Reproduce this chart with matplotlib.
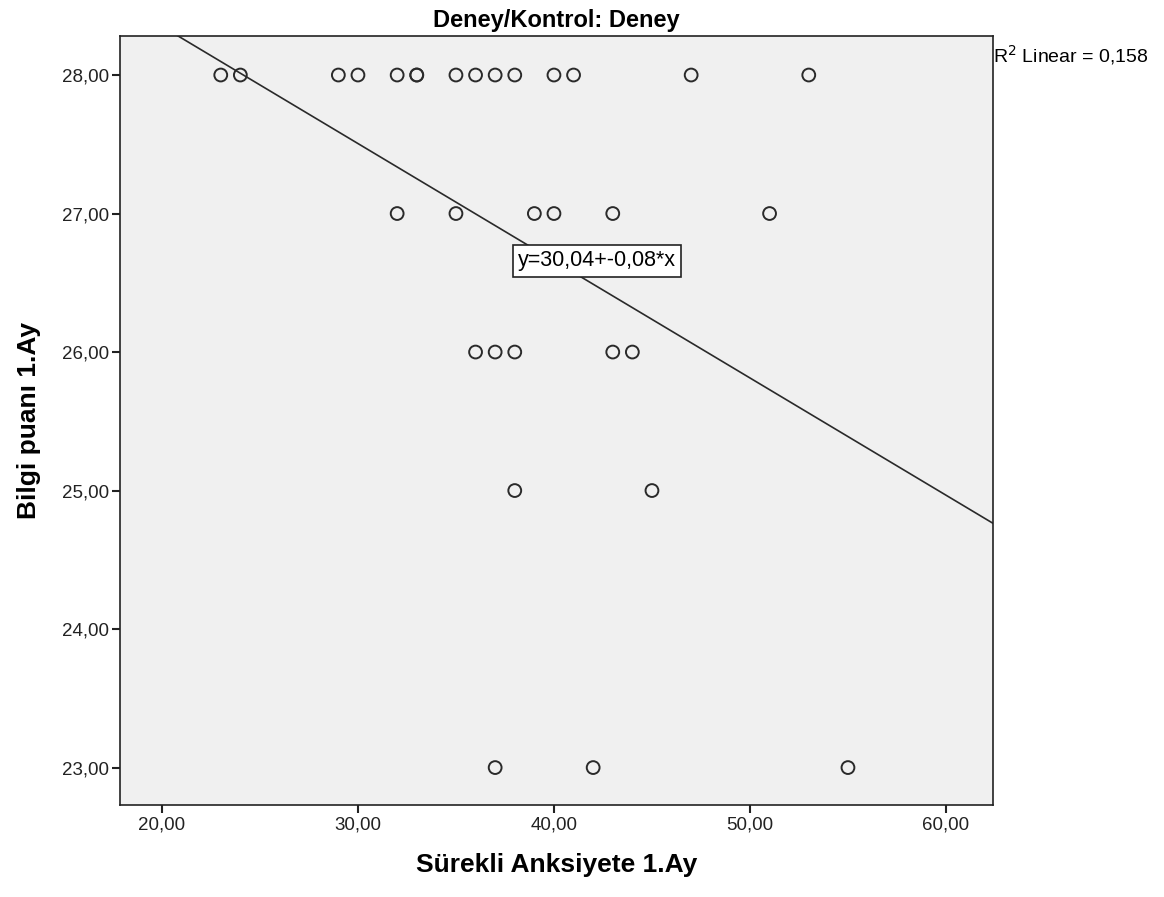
import numpy as np
import matplotlib.pyplot as plt
from matplotlib.ticker import FuncFormatter

plt.rcParams['font.family'] = ['Liberation Sans', 'DejaVu Sans']

# Sürekli Anksiyete 1.Ay (x) vs Bilgi puanı 1.Ay (y)
anksiyete = [23, 24, 29, 30, 32, 33, 33, 35, 36, 37, 38, 40, 41, 47, 53,
             32, 35, 39, 40, 43, 51,
             36, 37, 38, 43, 44,
             38, 45,
             37, 42, 55]
bilgi = [28] * 15 + [27] * 6 + [26] * 5 + [25] * 2 + [23] * 3

x = np.array(anksiyete, dtype=float)
y = np.array(bilgi, dtype=float)
slope, intercept = np.polyfit(x, y, 1)

fig = plt.figure(figsize=(11.64, 8.97), dpi=100)
ax = fig.add_axes([0.1031, 0.1026, 0.750, 0.857])
ax.set_facecolor('#f0f0f0')

ax.scatter(x, y, s=85, facecolors='none', edgecolors='#2a2a2a', linewidths=1.4, zorder=3)

xs = np.array([17.86, 62.4])
ax.plot(xs, intercept + slope * xs, color='#2a2a2a', linewidth=1.2, zorder=2)

ax.set_xlim(17.86, 62.4)
ax.set_ylim(22.73, 28.28)
ax.set_xticks([20, 30, 40, 50, 60])
ax.set_yticks([23, 24, 25, 26, 27, 28])
fmt = FuncFormatter(lambda v, p: f'{v:.2f}'.replace('.', ','))
ax.xaxis.set_major_formatter(fmt)
ax.yaxis.set_major_formatter(fmt)
ax.tick_params(direction='out', length=6, width=1.5, labelsize=13.5, colors='#222222', pad=2)
for s in ax.spines.values():
    s.set_linewidth(1.2)
    s.set_color('#222222')

ax.set_xlabel('Sürekli Anksiyete 1.Ay', fontsize=19, fontweight='bold', labelpad=14)
ax.set_ylabel('Bilgi puanı 1.Ay', fontsize=19, fontweight='bold', labelpad=15)
ax.set_title('Deney/Kontrol: Deney', fontsize=17, fontweight='bold', pad=7)

ax.text(42.2, 26.66, 'y=30,04+-0,08*x', fontsize=15.5, ha='center', va='center',
        bbox=dict(boxstyle='square,pad=0.25', facecolor='white', edgecolor='#222222', linewidth=1.2),
        zorder=4)
fig.text(0.8535, 0.939, 'R$^2$ Linear = 0,158', fontsize=14, ha='left', va='center')

fig.savefig('out.png', dpi=100)
